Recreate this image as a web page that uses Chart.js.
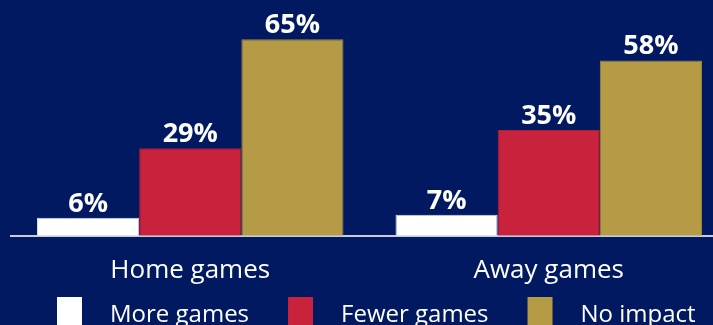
<!DOCTYPE html>
<html>
<head>
<meta charset="utf-8">
<script src="https://cdn.jsdelivr.net/npm/chart.js@4/dist/chart.umd.min.js"></script>
<style>
  html, body { margin: 0; padding: 0; background: #001960; overflow: hidden; }
  #wrap { width: 730px; height: 340px; }
</style>
</head>
<body>
<div id="wrap"><canvas id="myChart"></canvas></div>
<script>
const categories = ["Home games", "Away games"];
const seriesNames = ["More games", "Fewer games", "No impact"];
const moreGames = [6, 7];
const fewerGames = [29, 35];
const noImpact = [65, 58];
const colors = ["#ffffff", "#c8223c", "#b59b46"];
const borders = ["#d8dbe4", "#b01d35", "#9c853a"];

const fontFamily = "'Open Sans', sans-serif";

// value labels above bars
const valueLabels = {
  id: "valueLabels",
  afterDatasetsDraw(chart) {
    const ctx = chart.ctx;
    ctx.save();
    ctx.fillStyle = "#ffffff";
    ctx.font = "bold 27px " + fontFamily;
    ctx.textAlign = "center";
    ctx.textBaseline = "alphabetic";
    chart.data.datasets.forEach((ds, i) => {
      chart.getDatasetMeta(i).data.forEach((bar, j) => {
        ctx.fillText(ds.data[j] + "%", bar.x, bar.y - 6);
      });
    });
    ctx.restore();
  },
};

// legend drawn along the bottom
const bottomLegend = {
  id: "bottomLegend",
  afterDraw(chart) {
    const ctx = chart.ctx;
    ctx.save();
    ctx.font = "24px " + fontFamily;
    ctx.textBaseline = "alphabetic";
    let x = chart.chartArea.left + 46;
    const y = 297;
    chart.data.datasets.forEach((ds) => {
      ctx.fillStyle = ds.backgroundColor;
      ctx.fillRect(x, y, 25, 30);
      ctx.fillStyle = "#ffffff";
      ctx.fillText(ds.label, x + 53, y + 25);
      x += 53 + ctx.measureText(ds.label).width + 39;
    });
    ctx.restore();
  },
};

const data = {
  labels: categories,
  datasets: [moreGames, fewerGames, noImpact].map((vals, i) => ({
    label: seriesNames[i],
    data: vals,
    backgroundColor: colors[i],
    borderColor: borders[i],
    borderWidth: 1,
    categoryPercentage: 0.855,
    barPercentage: 1.0,
  })),
};

new Chart(document.getElementById("myChart"), {
  type: "bar",
  data: data,
  options: {
    responsive: true,
    maintainAspectRatio: false,
    animation: false,
    layout: { padding: { left: 11, right: 2, top: 0, bottom: 43 } },
    plugins: {
      legend: { display: false },
      tooltip: { enabled: false },
    },
    scales: {
      x: {
        grid: { display: false },
        border: { display: true, color: "#c9ccd8", width: 2 },
        ticks: {
          color: "#ffffff",
          font: { family: fontFamily, size: 26 },
          padding: 11,
        },
      },
      y: {
        display: false,
        min: 0,
        max: 78,
      },
    },
  },
  plugins: [valueLabels, bottomLegend],
});
</script>
</body>
</html>
